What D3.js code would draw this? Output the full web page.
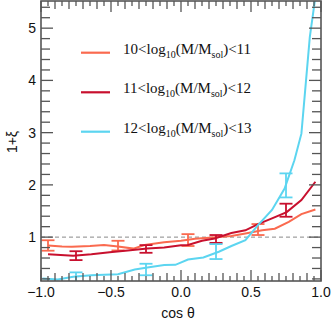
<!DOCTYPE html>
<html>
<head>
<meta http-equiv="Content-Type" content="text/html; charset=utf-8">
<script src="https://cdn.jsdelivr.net/npm/d3@7"></script>
<style>
  body { margin: 0; background: #fff; }
  text { font-family: "Liberation Sans", Arial, sans-serif; fill: #111; }
  .legend text { font-family: "Liberation Serif", "Times New Roman", serif; }
</style>
</head>
<body>
<div id="chart"></div>
<script type="text/javascript">

// ------------------------------------------- DATA
var massBins = ["10", "11", "12"];
var massEnds = ["11", "12", "13"];
var colors = ["#fa6a4f", "#c8102e", "#5cd5f0"];

// 10 < log M < 11
var cosLow = [-0.95, -0.85, -0.78, -0.65, -0.55, -0.45, -0.34, -0.26, -0.12, 0.0, 0.1, 0.2, 0.36, 0.46, 0.58, 0.67, 0.77, 0.86, 0.96];
var xiLow  = [0.84, 0.82, 0.815, 0.83, 0.85, 0.82, 0.78, 0.85, 0.90, 0.93, 0.97, 0.99, 1.02, 1.07, 1.13, 1.16, 1.29, 1.44, 1.53];

// 11 < log M < 12
var cosMid = [-0.95, -0.77, -0.64, -0.51, -0.38, -0.24, -0.12, 0.0, 0.05, 0.15, 0.24, 0.36, 0.46, 0.55, 0.65, 0.755, 0.86, 0.96];
var xiMid  = [0.67, 0.645, 0.67, 0.71, 0.745, 0.78, 0.80, 0.845, 0.85, 0.93, 0.975, 1.08, 1.13, 1.25, 1.36, 1.48, 1.71, 2.06];

// 12 < log M < 13
var cosHigh = [-0.99, -0.88, -0.77, -0.64, -0.55, -0.45, -0.33, -0.24, -0.12, -0.04, 0.05, 0.16, 0.27, 0.36, 0.46, 0.55, 0.65, 0.74, 0.81, 0.86, 0.92, 0.96];
var xiHigh  = [0.21, 0.19, 0.24, 0.27, 0.28, 0.29, 0.38, 0.42, 0.465, 0.47, 0.57, 0.61, 0.72, 0.83, 0.94, 1.23, 1.52, 1.93, 2.47, 2.98, 4.83, 5.6];

// error bars: position, lower, upper
var errCosLow = [-0.95, -0.45, 0.05, 0.55];
var errLoLow  = [0.74, 0.745, 0.83, 1.04];
var errHiLow  = [0.94, 0.93, 1.057, 1.25];

var errCosMid = [-0.75, -0.25, 0.25, 0.75];
var errLoMid  = [0.56, 0.70, 0.89, 1.39];
var errHiMid  = [0.73, 0.847, 1.04, 1.64];

var errCosHigh = [-0.75, -0.25, 0.25, 0.75];
var errLoHigh  = [0.14, 0.27, 0.58, 1.76];
var errHiHigh  = [0.325, 0.49, 0.866, 2.22];

var xTickVals = [-1.0, -0.5, 0.0, 0.5, 1.0];
var xTickLabels = ["\u22121.0", "\u22120.5", "0.0", "0.5", "1.0"];
var yTickVals = [1, 2, 3, 4, 5];

var series = [
  {cos: cosLow,  xi: xiLow,  eCos: errCosLow,  eLo: errLoLow,  eHi: errHiLow},
  {cos: cosMid,  xi: xiMid,  eCos: errCosMid,  eLo: errLoMid,  eHi: errHiMid},
  {cos: cosHigh, xi: xiHigh, eCos: errCosHigh, eLo: errLoHigh, eHi: errHiHigh}
];

// ------------------------------------------- SVG
var width = 333, height = 327;
var plotLeft = 41, plotRight = 321, plotTop = 1, plotBottom = 281;

var svg = d3.select("#chart").append("svg")
  .attr("width", width)
  .attr("height", height);

var x = d3.scaleLinear().domain([-1, 1]).range([plotLeft, plotRight]);
var y = d3.scaleLinear().domain([0.16, 5.52]).range([plotBottom, plotTop]);

svg.append("clipPath").attr("id", "plot")
  .append("rect")
  .attr("x", plotLeft).attr("y", plotTop)
  .attr("width", plotRight - plotLeft).attr("height", plotBottom - plotTop);

// dashed reference line at 1
svg.append("line")
  .attr("x1", plotLeft).attr("x2", plotRight)
  .attr("y1", y(1)).attr("y2", y(1))
  .attr("stroke", "#888")
  .attr("stroke-width", 1)
  .attr("stroke-dasharray", "4,3");

var dataviz = svg.append("g").attr("clip-path", "url(#plot)");

var line = d3.line()
  .x(function(d){ return x(d[0]); })
  .y(function(d){ return y(d[1]); });

series.forEach(function(s, i) {
  var pts = s.cos.map(function(c, j){ return [c, s.xi[j]]; });
  dataviz.append("path")
    .datum(pts)
    .attr("d", line)
    .attr("fill", "none")
    .attr("stroke", colors[i])
    .attr("stroke-width", 2);

  var eb = dataviz.append("g")
    .attr("stroke", colors[i])
    .attr("stroke-width", 1.8);
  s.eCos.forEach(function(c, j) {
    var cx = x(c), w = 6.5;
    eb.append("line").attr("x1", cx).attr("x2", cx).attr("y1", y(s.eLo[j])).attr("y2", y(s.eHi[j]));
    eb.append("line").attr("x1", cx - w).attr("x2", cx + w).attr("y1", y(s.eLo[j])).attr("y2", y(s.eLo[j]));
    eb.append("line").attr("x1", cx - w).attr("x2", cx + w).attr("y1", y(s.eHi[j])).attr("y2", y(s.eHi[j]));
  });
});

// ------------------------------------------- AXES
var axisColor = "#555";

var xMinor = d3.range(-1, 1.0001, 0.05).map(function(v){ return Math.round(v * 100) / 100; });
var yMinor = d3.range(0.2, 5.5, 0.2).map(function(v){ return Math.round(v * 10) / 10; });

function xLen(v) {
  if (Math.abs(v * 2 - Math.round(v * 2)) < 1e-6) return 11;
  if (Math.abs(v * 10 - Math.round(v * 10)) < 1e-6) return 8;
  return 5;
}
function yLen(v) {
  return Math.abs(v - Math.round(v)) < 1e-6 ? 12 : 9;
}

var ticks = svg.append("g").attr("stroke", axisColor).attr("stroke-width", 1.3);

xMinor.forEach(function(v) {
  ticks.append("line").attr("x1", x(v)).attr("x2", x(v)).attr("y1", plotBottom).attr("y2", plotBottom - xLen(v));
  ticks.append("line").attr("x1", x(v)).attr("x2", x(v)).attr("y1", plotTop).attr("y2", plotTop + xLen(v));
});
yMinor.forEach(function(v) {
  ticks.append("line").attr("x1", plotLeft).attr("x2", plotLeft + yLen(v)).attr("y1", y(v)).attr("y2", y(v));
  ticks.append("line").attr("x1", plotRight).attr("x2", plotRight - yLen(v)).attr("y1", y(v)).attr("y2", y(v));
});

svg.append("rect")
  .attr("x", plotLeft).attr("y", plotTop)
  .attr("width", plotRight - plotLeft).attr("height", plotBottom - plotTop)
  .attr("fill", "none")
  .attr("stroke", axisColor)
  .attr("stroke-width", 1.6);

svg.selectAll("text.xt")
  .data(xTickVals)
  .enter().append("text")
  .attr("class", "xt")
  .attr("x", function(d){ return x(d); })
  .attr("y", 297)
  .attr("text-anchor", "middle")
  .style("font-size", "14px")
  .text(function(d, i){ return xTickLabels[i]; });

svg.selectAll("text.yt")
  .data(yTickVals)
  .enter().append("text")
  .attr("class", "yt")
  .attr("x", 36)
  .attr("y", function(d){ return y(d) + 5; })
  .attr("text-anchor", "end")
  .style("font-size", "14px")
  .text(function(d){ return d; });

svg.append("text")
  .attr("x", 178).attr("y", 318)
  .attr("text-anchor", "middle")
  .style("font-size", "14px")
  .text("cos \u03b8");

svg.append("text")
  .attr("transform", "translate(17,142) rotate(-90)")
  .attr("text-anchor", "middle")
  .style("font-size", "14px")
  .text("1+\u03be");

// ------------------------------------------- LEGEND
var legend = svg.append("g").attr("class", "legend");
var legendY = [52.7, 92.3, 131.7];

massBins.forEach(function(m, i) {
  legend.append("line")
    .attr("x1", 81).attr("x2", 110)
    .attr("y1", legendY[i]).attr("y2", legendY[i])
    .attr("stroke", colors[i])
    .attr("stroke-width", 2.2);

  var t = legend.append("text")
    .attr("x", 123).attr("y", legendY[i] + 1)
    .style("font-size", "15px");
  t.append("tspan").text(m + "<log");
  t.append("tspan").attr("dy", 4).style("font-size", "10px").text("10");
  t.append("tspan").attr("dy", -4).text("(M/M");
  t.append("tspan").attr("dy", 4).style("font-size", "10px").text("sol");
  t.append("tspan").attr("dy", -4).text(")<" + massEnds[i]);
});

</script>
</body>
</html>
